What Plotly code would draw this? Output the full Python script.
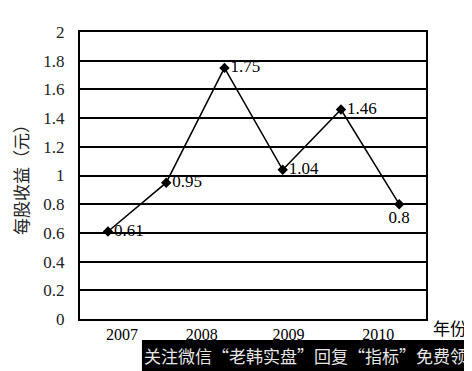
import plotly.graph_objects as go

# Data
values = [0.61, 0.95, 1.75, 1.04, 1.46, 0.8]
value_labels = ["0.61", "0.95", "1.75", "1.04", "1.46", "0.8"]
label_positions = ["middle right", "middle right", "middle right", "middle right", "middle right", "bottom center"]
point_index = [0, 1, 2, 3, 4, 5]
year_labels = ["2007", "2008", "2009", "2010"]
year_label_pos = [0.24, 1.61, 3.10, 4.64]
y_ticks = [0, 0.2, 0.4, 0.6, 0.8, 1, 1.2, 1.4, 1.6, 1.8, 2]
y_tick_text = ["0", "0.2", "0.4", "0.6", "0.8", "1", "1.2", "1.4", "1.6", "1.8", "2"]

serif = "Liberation Serif, Times New Roman, serif"
cjk = "Noto Sans CJK SC, sans-serif"

fig = go.Figure()
fig.add_trace(go.Scatter(
    x=point_index, y=values,
    mode="lines+markers+text",
    line=dict(color="black", width=1.5),
    marker=dict(symbol="diamond", size=8, color="black"),
    text=value_labels,
    textposition=label_positions,
    textfont=dict(family=serif, size=17, color="black"),
    cliponaxis=False,
    showlegend=False,
))

# page body has an 8px margin, so the figure is sized to fit inside the window
fig.update_layout(
    width=464, height=363,
    margin=dict(l=72, r=46, t=24, b=52),
    paper_bgcolor="white",
    plot_bgcolor="white",
    xaxis=dict(
        range=[-0.48, 5.46],
        tickvals=year_label_pos,
        ticktext=year_labels,
        tickfont=dict(family=serif, size=16, color="black"),
        showgrid=False,
        zeroline=False,
        showline=True, linecolor="black", linewidth=2, mirror=True,
        ticks="", ticklen=0, ticklabelstandoff=0,
    ),
    yaxis=dict(
        range=[0, 2],
        tickvals=y_ticks,
        ticktext=y_tick_text,
        tickfont=dict(family=serif, size=17, color="#222"),
        showgrid=True, gridcolor="black", gridwidth=2,
        zeroline=False,
        showline=True, linecolor="black", linewidth=2, mirror=True,
        ticks="", ticklabelstandoff=10,
        title=dict(text="每股收益（元）", font=dict(family=cjk, size=17, color="#222"), standoff=12),
    ),
)

fig.add_annotation(
    text="年份", xref="paper", yref="paper",
    x=1.015, y=-0.03, xanchor="left", yanchor="middle",
    showarrow=False, font=dict(family=cjk, size=17, color="black"),
)

# watermark banner
fig.add_shape(type="rect", xref="paper", yref="paper",
              x0=0.179, x1=1.2, y0=-0.2, y1=-0.073,
              fillcolor="black", line=dict(width=0), layer="above")
fig.add_annotation(
    text="关注微信“老韩实盘”回复“指标”免费领", xref="paper", yref="paper",
    x=0.653, y=-0.127, xanchor="center", yanchor="middle",
    showarrow=False, font=dict(family=cjk, size=17, color="#e6e6e6"),
)

fig.write_html("out.html")
